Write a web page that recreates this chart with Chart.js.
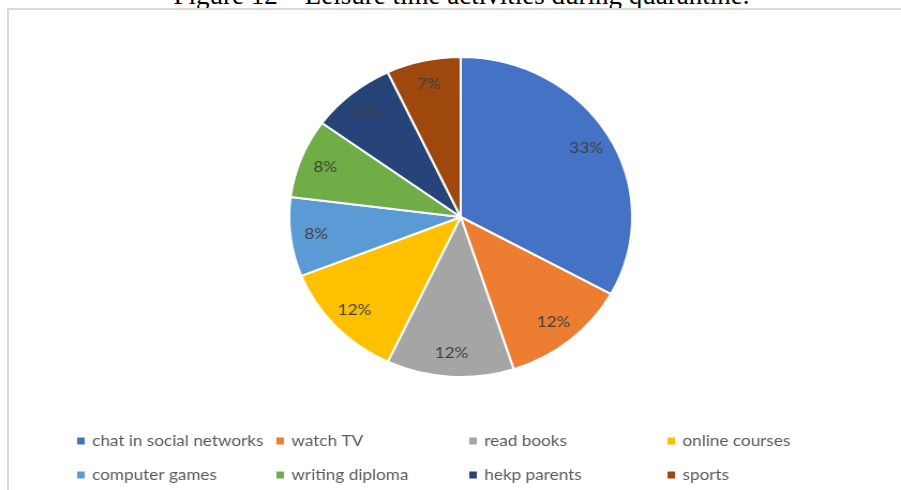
<!DOCTYPE html>
<html>
<head>
<meta charset="utf-8">
<script src="https://cdn.jsdelivr.net/npm/chart.js@4/dist/chart.umd.min.js"></script>
<style>
  html, body { margin: 0; padding: 0; background: #fff; }
  body { width: 901px; height: 490px; overflow: hidden; position: relative; }
  #title {
    position: absolute; left: 0; width: 923px; top: -18px;
    text-align: center; white-space: nowrap;
    font: 27px/27px 'Liberation Serif', 'Times New Roman', serif; color: #000;
  }
  #frame {
    position: absolute; left: 7px; top: 8px; width: 1000px; height: 600px;
    border: 2px solid #d9d9d9; box-sizing: border-box;
  }
  #wrap {
    position: absolute; left: 0; top: 0; width: 841px; height: 490px;
    transform: scaleX(1.0714); transform-origin: 0 0;
  }
</style>
</head>
<body>
<div id="title">Figure 12 – Leisure time activities during quarantine.</div>
<div id="frame"></div>
<div id="wrap"><canvas id="pie"></canvas></div>
<script>
'use strict';

// ── Data ────────────────────────────────────────────────────────────────────

const activities = [
  'chat in social networks', 'watch TV', 'read books', 'online courses',
  'computer games', 'writing diploma', 'hekp parents', 'sports'
];
const shares = [33, 12, 12, 12, 8, 8, 8, 7];
const sliceColors = [
  '#4472C4', '#ED7D31', '#A5A5A5', '#FFC000',
  '#5B9BD5', '#70AD47', '#264478', '#9E480E'
];

const FONT = "Lato, 'Open Sans', sans-serif";

// ── Plugins ─────────────────────────────────────────────────────────────────

// percentage labels inside each slice
const sliceLabels = {
  id: 'sliceLabels',
  afterDatasetsDraw(chart) {
    const { ctx } = chart;
    const meta = chart.getDatasetMeta(0);
    const total = shares.reduce((a, b) => a + b, 0);
    ctx.save();
    ctx.font = '16px ' + FONT;
    ctx.fillStyle = '#404040';
    ctx.textAlign = 'center';
    ctx.textBaseline = 'middle';
    meta.data.forEach((arc, i) => {
      const p = arc.getProps(['x', 'y', 'startAngle', 'endAngle', 'outerRadius'], true);
      const mid = (p.startAngle + p.endAngle) / 2;
      const r = p.outerRadius * 0.85;
      const pct = Math.round(shares[i] / total * 100) + '%';
      ctx.fillText(pct, p.x + Math.cos(mid) * r, p.y + Math.sin(mid) * r);
    });
    ctx.restore();
  }
};

// legend laid out as a 4-column grid, like the Excel original
const gridLegend = {
  id: 'gridLegend',
  afterDraw(chart) {
    const { ctx } = chart;
    const colX = [72, 258, 438, 623];
    const rowY = [441, 475];
    ctx.save();
    ctx.font = '16px ' + FONT;
    ctx.textBaseline = 'middle';
    activities.forEach((name, i) => {
      const x = colX[i % 4];
      const y = rowY[Math.floor(i / 4)];
      ctx.fillStyle = sliceColors[i];
      ctx.fillRect(x, y - 3.5, 7, 7);
      ctx.fillStyle = '#595959';
      ctx.fillText(name, x + 14, y);
    });
    ctx.restore();
  }
};

// ── Chart ───────────────────────────────────────────────────────────────────

new Chart(document.getElementById('pie'), {
  type: 'pie',
  data: {
    labels: activities,
    datasets: [{
      data: shares,
      backgroundColor: sliceColors,
      borderColor: '#ffffff',
      borderWidth: 2
    }]
  },
  options: {
    responsive: true,
    maintainAspectRatio: false,
    animation: false,
    layout: { padding: { top: 56, bottom: 112, left: 230, right: 211 } },
    plugins: {
      legend: { display: false },
      tooltip: { enabled: false }
    }
  },
  plugins: [sliceLabels, gridLegend]
});
</script>
</body>
</html>
